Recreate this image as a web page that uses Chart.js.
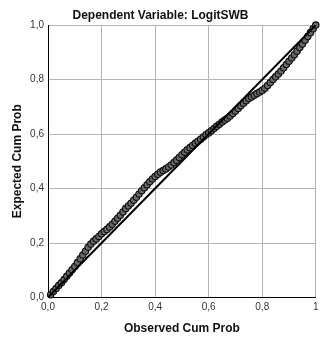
<!DOCTYPE html>
<html>
<head>
<meta charset="utf-8">
<script src="https://cdn.jsdelivr.net/npm/chart.js@4"></script>
<style>
  html, body { margin: 0; padding: 0; background: #fff; }
  #wrap { width: 321px; height: 338px; }
</style>
</head>
<body>
<div id="wrap"><canvas id="ppChart" width="321" height="338"></canvas></div>
<script>
"use strict";

// P-P plot values
const observedCum = [
  0.01, 0.02, 0.03, 0.04, 0.05, 0.06, 0.07, 0.08, 0.09, 0.10,
  0.11, 0.12, 0.13, 0.14, 0.15, 0.16, 0.17, 0.18, 0.19, 0.20,
  0.21, 0.22, 0.23, 0.24, 0.25, 0.26, 0.27, 0.28, 0.29, 0.30,
  0.31, 0.32, 0.33, 0.34, 0.35, 0.36, 0.37, 0.38, 0.39, 0.40,
  0.41, 0.42, 0.43, 0.44, 0.45, 0.46, 0.47, 0.48, 0.49, 0.50,
  0.51, 0.52, 0.53, 0.54, 0.55, 0.56, 0.57, 0.58, 0.59, 0.60,
  0.61, 0.62, 0.63, 0.64, 0.65, 0.66, 0.67, 0.68, 0.69, 0.70,
  0.71, 0.72, 0.73, 0.74, 0.75, 0.76, 0.77, 0.78, 0.79, 0.80,
  0.81, 0.82, 0.83, 0.84, 0.85, 0.86, 0.87, 0.88, 0.89, 0.90,
  0.91, 0.92, 0.93, 0.94, 0.95, 0.96, 0.97, 0.98, 0.99, 1.00,
];
const expectedCum = [
  0.010, 0.022, 0.033, 0.044, 0.054, 0.066, 0.078, 0.090, 0.102, 0.114,
  0.128, 0.142, 0.156, 0.170, 0.184, 0.196, 0.206, 0.215, 0.224, 0.234,
  0.242, 0.250, 0.259, 0.269, 0.280, 0.291, 0.302, 0.314, 0.326, 0.336,
  0.346, 0.357, 0.368, 0.380, 0.392, 0.403, 0.414, 0.425, 0.435, 0.444,
  0.452, 0.460, 0.466, 0.472, 0.479, 0.486, 0.495, 0.504, 0.514, 0.524,
  0.533, 0.542, 0.550, 0.558, 0.566, 0.573, 0.581, 0.589, 0.597, 0.604,
  0.612, 0.620, 0.628, 0.636, 0.644, 0.651, 0.658, 0.666, 0.675, 0.684,
  0.694, 0.704, 0.713, 0.722, 0.730, 0.736, 0.742, 0.748, 0.754, 0.760,
  0.768, 0.778, 0.789, 0.800, 0.810, 0.820, 0.831, 0.843, 0.855, 0.867,
  0.879, 0.891, 0.904, 0.917, 0.930, 0.944, 0.958, 0.972, 0.986, 1.000,
];
const refLineX = [0, 1];
const refLineY = [0, 1];

const xTickLabels = ["0,0", "0,2", "0,4", "0,6", "0,8", "1"];
const yTickLabels = ["0,0", "0,2", "0,4", "0,6", "0,8", "1,0"];

const FONT = "'Liberation Sans', Arial, sans-serif";

function tickLabel(labels) {
  return (value) => {
    const i = Math.round(value / 0.2);
    return labels[i] ?? "";
  };
}

const canvas = document.getElementById("ppChart");

new Chart(canvas, {
  type: "scatter",
  data: {
    datasets: [
      {
        label: "Observed",
        data: observedCum.map((x, i) => ({ x, y: expectedCum[i] })),
        pointRadius: 3.2,
        pointBackgroundColor: "#6a6a6a",
        pointBorderColor: "#111",
        pointBorderWidth: 1.2,
        clip: false,
        order: 2,
      },
      {
        type: "line",
        label: "Reference",
        data: refLineX.map((x, i) => ({ x, y: refLineY[i] })),
        borderColor: "#000",
        borderWidth: 2,
        pointRadius: 0,
        fill: false,
        order: 1,
      },
    ],
  },
  options: {
    responsive: false,
    animation: false,
    layout: { padding: { left: 0, right: 0, top: 0, bottom: 0 } },
    plugins: {
      legend: { display: false },
      tooltip: { enabled: false },
      title: {
        display: true,
        text: "Dependent Variable: LogitSWB",
        color: "#111",
        font: { family: FONT, size: 12, weight: "bold" },
        padding: { top: 8, bottom: 2.6 },
      },
    },
    scales: {
      x: {
        type: "linear",
        min: 0,
        max: 1,
        afterBuildTicks: (scale) => {
          scale.ticks = [0, 0.2, 0.4, 0.6, 0.8, 1].map((v) => ({ value: v }));
        },
        afterFit: (scale) => {
          scale.height = 40.5;
          scale.paddingLeft = 0;
          scale.paddingRight = 0;
        },
        grid: { color: "#b4b4b4", lineWidth: 1, drawTicks: false },
        border: { color: "#000", width: 1 },
        ticks: {
          color: "#333",
          padding: 4,
          maxRotation: 0,
          autoSkip: false,
          font: { family: FONT, size: 10 },
          callback: tickLabel(xTickLabels),
        },
        title: {
          display: true,
          text: "Observed Cum Prob",
          color: "#111",
          font: { family: FONT, size: 12, weight: "bold" },
          padding: { top: 0, bottom: 2 },
        },
      },
      y: {
        type: "linear",
        min: 0,
        max: 1,
        afterBuildTicks: (scale) => {
          scale.ticks = [0, 0.2, 0.4, 0.6, 0.8, 1].map((v) => ({ value: v }));
        },
        afterFit: (scale) => {
          scale.width = 48;
        },
        grid: { color: "#b4b4b4", lineWidth: 1, drawTicks: false },
        border: { color: "#000", width: 1 },
        ticks: {
          color: "#333",
          padding: 4,
          autoSkip: false,
          font: { family: FONT, size: 10 },
          callback: tickLabel(yTickLabels),
        },
        title: {
          display: true,
          text: "Expected Cum Prob",
          color: "#111",
          font: { family: FONT, size: 12, weight: "bold" },
          padding: { top: 10, bottom: 0 },
        },
      },
    },
  },
});
</script>
</body>
</html>
